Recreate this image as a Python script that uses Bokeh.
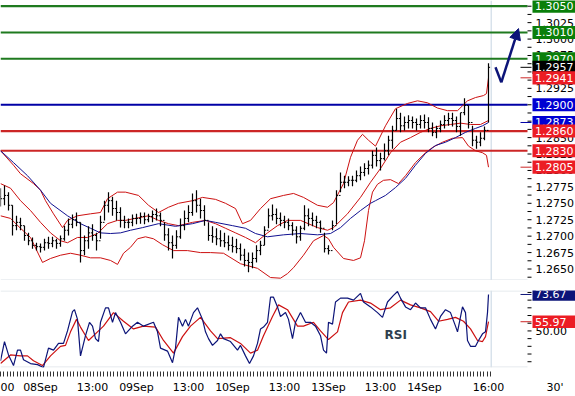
from bokeh.plotting import figure
from bokeh.models import Range1d, FixedTicker, Span, Label, Arrow, NormalHead
from bokeh.core.properties import value
from bokeh.layouts import column
from bokeh.embed import file_html
from bokeh.resources import INLINE

FONT = "DejaVu Sans"

# ---------------- data (x = hours after 08Sep 00:00, trading hours only) ----------------
bar_hours = list(range(-10, 113))
highs = [1.2773, 1.2777, 1.2767, 1.2747, 1.2731, 1.2728, 1.2716, 1.2705, 1.2698, 1.2690,
         1.2689, 1.2696, 1.2699, 1.2699, 1.2696, 1.2701, 1.2716, 1.2727, 1.2733, 1.2736,
         1.2721, 1.2701, 1.2715, 1.2718, 1.2705, 1.2731, 1.2754, 1.2767, 1.2760, 1.2754,
         1.2744, 1.2731, 1.2727, 1.2733, 1.2734, 1.2736, 1.2736, 1.2734, 1.2739, 1.2742,
         1.2736, 1.2721, 1.2712, 1.2701, 1.2709, 1.2727, 1.2739, 1.2747, 1.2765, 1.2770,
         1.2757, 1.2747, 1.2721, 1.2715, 1.2712, 1.2709, 1.2705, 1.2701, 1.2699, 1.2696,
         1.2689, 1.2681, 1.2675, 1.2675, 1.2686, 1.2693, 1.2715, 1.2742, 1.2748, 1.2742,
         1.2736, 1.2731, 1.2727, 1.2721, 1.2715, 1.2716, 1.2747, 1.2742, 1.2736, 1.2731,
         1.2724, 1.2705, 1.2686, 1.2724, 1.2770, 1.2797, 1.2792, 1.2791, 1.2792, 1.2800,
         1.2806, 1.2811, 1.2815, 1.2830, 1.2835, 1.2827, 1.2841, 1.2853, 1.2868, 1.2894,
         1.2888, 1.2882, 1.2884, 1.2882, 1.2879, 1.2884, 1.2885, 1.2881, 1.2873, 1.2868,
         1.2876, 1.2884, 1.2888, 1.2888, 1.2882, 1.2888, 1.2910, 1.2899, 1.2868, 1.2853,
         1.2858, 1.2867, 1.2963]
lows = [1.2745, 1.2747, 1.2739, 1.2701, 1.2709, 1.2709, 1.2693, 1.2686, 1.2681, 1.2678,
        1.2675, 1.2678, 1.2681, 1.2683, 1.2681, 1.2684, 1.2693, 1.2701, 1.2712, 1.2715,
        1.2660, 1.2671, 1.2681, 1.2693, 1.2678, 1.2696, 1.2724, 1.2736, 1.2731, 1.2724,
        1.2713, 1.2712, 1.2712, 1.2715, 1.2718, 1.2719, 1.2718, 1.2721, 1.2721, 1.2724,
        1.2715, 1.2693, 1.2678, 1.2666, 1.2681, 1.2696, 1.2709, 1.2721, 1.2731, 1.2736,
        1.2727, 1.2716, 1.2693, 1.2690, 1.2686, 1.2684, 1.2683, 1.2678, 1.2675, 1.2674,
        1.2663, 1.2654, 1.2645, 1.2651, 1.2660, 1.2671, 1.2686, 1.2712, 1.2724, 1.2718,
        1.2715, 1.2712, 1.2709, 1.2701, 1.2689, 1.2693, 1.2709, 1.2715, 1.2715, 1.2712,
        1.2705, 1.2675, 1.2672, 1.2709, 1.2718, 1.2767, 1.2773, 1.2776, 1.2776, 1.2782,
        1.2785, 1.2791, 1.2794, 1.2803, 1.2806, 1.2800, 1.2815, 1.2823, 1.2833, 1.2861,
        1.2858, 1.2861, 1.2864, 1.2864, 1.2861, 1.2864, 1.2864, 1.2858, 1.2852, 1.2849,
        1.2858, 1.2864, 1.2868, 1.2867, 1.2858, 1.2853, 1.2884, 1.2864, 1.2837, 1.2833,
        1.2837, 1.2846, 1.2873]
closes = [1.2757, 1.2762, 1.2747, 1.2716, 1.2721, 1.2716, 1.2701, 1.2693, 1.2686, 1.2684,
          1.2683, 1.2690, 1.2689, 1.2693, 1.2689, 1.2696, 1.2709, 1.2718, 1.2725, 1.2721,
          1.2678, 1.2693, 1.2705, 1.2701, 1.2693, 1.2721, 1.2747, 1.2754, 1.2742, 1.2736,
          1.2724, 1.2721, 1.2721, 1.2727, 1.2727, 1.2730, 1.2725, 1.2730, 1.2733, 1.2731,
          1.2724, 1.2702, 1.2690, 1.2686, 1.2699, 1.2716, 1.2727, 1.2736, 1.2754, 1.2747,
          1.2739, 1.2724, 1.2701, 1.2699, 1.2696, 1.2693, 1.2690, 1.2686, 1.2684, 1.2681,
          1.2671, 1.2663, 1.2660, 1.2666, 1.2678, 1.2686, 1.2709, 1.2731, 1.2733, 1.2727,
          1.2724, 1.2721, 1.2716, 1.2709, 1.2699, 1.2712, 1.2731, 1.2727, 1.2724, 1.2721,
          1.2712, 1.2681, 1.2678, 1.2716, 1.2762, 1.2782, 1.2782, 1.2785, 1.2785, 1.2792,
          1.2797, 1.2803, 1.2808, 1.2823, 1.2815, 1.2818, 1.2830, 1.2846, 1.2861, 1.2879,
          1.2868, 1.2873, 1.2876, 1.2873, 1.2870, 1.2876, 1.2873, 1.2864, 1.2858, 1.2864,
          1.2870, 1.2876, 1.2879, 1.2876, 1.2867, 1.2888, 1.2899, 1.2873, 1.2846, 1.2843,
          1.2849, 1.2861, 1.2957]
first_open = 1.2760

upper_h = [-10, -6.75, -5, -1.75, 0, 1.25, 3.25, 5.5, 6.75, 9.25, 12.5, 15, 16.75, 19.25, 21.25,
           24.5, 27, 29.5, 32, 34.5, 38, 40.5, 43.75, 46.25, 48.75, 50.5, 52.5, 55, 57.5, 60.75,
           63.25, 65.75, 69.25, 71.75, 73.25, 75.75, 77.5, 79.25, 80.5, 82, 83.75, 86.25, 88.75,
           91.75, 94.25, 96.75, 99.25, 101.75, 104.25, 106.75, 108.75, 110.75, 111.5, 112]
upper_p = [1.2830, 1.2808, 1.2795, 1.2780, 1.2770, 1.2754, 1.2734, 1.2713, 1.2724, 1.2731,
           1.2734, 1.2736, 1.2757, 1.2767, 1.2767, 1.2762, 1.2747, 1.2736, 1.2744, 1.2750,
           1.2754, 1.2759, 1.2756, 1.2750, 1.2742, 1.2719, 1.2724, 1.2742, 1.2757, 1.2762,
           1.2765, 1.2759, 1.2747, 1.2744, 1.2751, 1.2780, 1.2820, 1.2846, 1.2855, 1.2846,
           1.2837, 1.2868, 1.2894, 1.2902, 1.2906, 1.2903, 1.2895, 1.2891, 1.2891, 1.2906,
           1.2911, 1.2914, 1.2917, 1.2941]

mid_h = [-10, -7.5, -5, -2.5, 0, 2.5, 5, 6.75, 9.25, 11.75, 14.25, 16.75, 19.25, 21.25, 24.5,
         27, 29.5, 32, 34.5, 38, 41.25, 43.75, 46.25, 48.75, 51.25, 53.75, 56.75, 59.25, 61.75,
         65, 69.25, 71.75, 73.25, 76.75, 80, 82.5, 85, 87.5, 90, 92.5, 95, 97.5, 100, 102.5,
         105, 107.5, 110, 112]
mid_p = [1.2780, 1.2773, 1.2754, 1.2739, 1.2721, 1.2705, 1.2693, 1.2690, 1.2698, 1.2698,
         1.2704, 1.2719, 1.2724, 1.2724, 1.2728, 1.2731, 1.2724, 1.2719, 1.2716, 1.2721,
         1.2724, 1.2719, 1.2712, 1.2705, 1.2698, 1.2690, 1.2705, 1.2716, 1.2724, 1.2724,
         1.2713, 1.2709, 1.2713, 1.2734, 1.2759, 1.2782, 1.2803, 1.2827, 1.2843, 1.2850,
         1.2858, 1.2864, 1.2868, 1.2870, 1.2872, 1.2870, 1.2870, 1.2876]

lower_h = [-10, -7.5, -5, -2.5, 0.5, 2.5, 5, 7.5, 10, 12.5, 15, 17.5, 19.25, 20.75, 22.5,
           24.25, 26.25, 28.25, 30.5, 33.25, 36.75, 40, 42.5, 45.75, 50, 54.25, 57.5, 60, 61.75,
           63.25, 65.75, 68.25, 70.75, 72, 73.25, 75.75, 78.25, 80, 81, 82, 83, 84.25, 85.75,
           87.5, 89.5, 91.25, 93.75, 96.25, 98, 100.5, 103, 105.5, 107, 108.75, 110.5, 111.5, 112]
lower_p = [1.2731, 1.2727, 1.2712, 1.2698, 1.2660, 1.2666, 1.2671, 1.2674, 1.2671, 1.2667,
           1.2667, 1.2663, 1.2657, 1.2674, 1.2683, 1.2696, 1.2699, 1.2696, 1.2687, 1.2678,
           1.2678, 1.2675, 1.2675, 1.2674, 1.2658, 1.2651, 1.2637, 1.2636, 1.2643, 1.2652,
           1.2671, 1.2693, 1.2701, 1.2696, 1.2683, 1.2666, 1.2663, 1.2667, 1.2693, 1.2739,
           1.2767, 1.2779, 1.2785, 1.2786, 1.2780, 1.2792, 1.2812, 1.2827, 1.2835, 1.2843,
           1.2849, 1.2850, 1.2837, 1.2830, 1.2827, 1.2823, 1.2805]

ma_h = [-10, -6.75, -3.25, 0, 2.5, 6.75, 10, 12.5, 15, 17.5, 20, 22.5, 25.5, 29.5, 33.75, 38,
        41.25, 43.75, 48, 51.25, 53.75, 56.75, 60.75, 65, 69.25, 72.5, 75, 77.5, 80, 82.5,
        83.75, 86.25, 88.75, 91.25, 93.75, 96.25, 98.75, 101.25, 103.75, 106.25, 108.75, 110.5, 112]
ma_p = [1.2830, 1.2812, 1.2792, 1.2770, 1.2750, 1.2731, 1.2719, 1.2712, 1.2705, 1.2704,
        1.2705, 1.2709, 1.2713, 1.2719, 1.2715, 1.2719, 1.2724, 1.2721, 1.2716, 1.2712,
        1.2704, 1.2699, 1.2702, 1.2704, 1.2702, 1.2704, 1.2713, 1.2727, 1.2739, 1.2750,
        1.2754, 1.2762, 1.2774, 1.2788, 1.2808, 1.2826, 1.2838, 1.2843, 1.2850, 1.2858,
        1.2864, 1.2868, 1.2873]

rsi_h = [-10, -9, -8, -6.75, -5.75, -5, -4.25, -2.5, -0.75, 0.75,
         2, 3.25, 4.5, 5.75, 6.75, 8, 8.5, 9.25, 10, 11.25,
         12.25, 13, 13.75, 14.5, 15, 16.25, 17, 18, 18.75, 20,
         21.25, 23, 24.25, 25.75, 28.25, 29.25, 30, 31.75, 33, 33.75,
         34.5, 35.5, 36.25, 37, 38.25, 39.25, 40.5, 41.25, 42, 43,
         44.25, 45, 45.75, 47.5, 49.25, 50, 51.25, 52.25, 53.25, 54.25,
         55, 55.75, 56.75, 57.5, 58.25, 59.25, 60, 61.25, 62, 63,
         63.75, 65, 66.25, 67.5, 68.75, 70, 70.75, 71.5, 72, 73,
         73.75, 75, 76.75, 78.25, 80, 80.75, 82.5, 84.25, 85.5, 86.75,
         88.25, 89.25, 90, 91.25, 92.5, 93.75, 95, 96.25, 97.5, 98.75,
         100, 101.25, 102.5, 103.75, 104.25, 105.5, 106.25, 106.75, 107.5, 108.75,
         109.5, 110.5, 111.25, 111.75, 112]
rsi_v = [30.6, 43.1, 34.4, 27.5, 37.5, 37.5, 31.3, 28.8, 28.1, 26.3,
         38.8, 37.5, 41.9, 41.9, 50.0, 62.5, 63.8, 57.5, 33.8, 46.9,
         55.6, 53.1, 45.0, 43.1, 55.6, 65.0, 65.0, 55.6, 61.9, 55.6,
         48.1, 53.1, 55.6, 53.1, 55.6, 49.4, 38.8, 36.9, 29.4, 38.8,
         58.8, 53.1, 57.5, 53.1, 61.9, 65.0, 57.5, 49.4, 45.0, 40.6,
         43.8, 48.1, 45.0, 43.1, 37.5, 40.6, 33.8, 28.8, 33.8, 41.9,
         51.3, 52.5, 55.6, 71.9, 71.9, 65.6, 59.4, 61.9, 57.5, 45.0,
         55.6, 61.9, 55.6, 55.6, 53.1, 46.9, 37.5, 35.6, 55.6, 54.4,
         68.8, 71.3, 71.3, 70.0, 74.4, 68.8, 65.6, 61.9, 58.8, 68.8,
         73.1, 75.6, 71.3, 65.6, 63.8, 68.1, 65.0, 65.0, 57.5, 51.3,
         59.4, 63.8, 61.9, 53.1, 49.4, 65.6, 61.9, 43.8, 40.0, 40.0,
         43.8, 48.1, 49.4, 61.9, 73.67]

sig_h = [-10, -7.5, -5, -3.25, -1.75, 0.5, 2.5, 5, 6.25, 7.5, 9, 10, 12, 14.25, 15.75,
         18.25, 20.75, 23.25, 25.75, 28.75, 30.75, 33.25, 35.5, 37.5, 40, 42.5, 44.25, 47.5,
         50, 52.5, 54.25, 55.75, 58, 59.5, 61.75, 64.25, 65.75, 68.25, 70, 72, 74.25, 75.5,
         77, 80, 82.5, 85, 87.5, 90, 92.5, 95, 97.5, 99.5, 101.75, 103.75, 105.75, 107.5,
         109.25, 110.5, 111.25, 112]
sig_v = [28.8, 34.4, 33.8, 33.8, 30.6, 27.5, 33.8, 40.0, 40.6, 49.4, 57.5, 52.5, 43.8, 49.4,
         53.1, 61.9, 56.3, 51.3, 53.1, 52.5, 43.8, 35.6, 46.3, 53.1, 58.8, 50.0, 45.0, 45.6,
         41.9, 35.6, 37.5, 46.9, 59.4, 66.9, 63.8, 53.1, 53.1, 55.6, 50.0, 44.4, 49.4, 61.9,
         68.8, 70.0, 68.1, 63.8, 65.0, 70.0, 66.9, 65.0, 62.5, 56.3, 57.5, 58.8, 56.3, 51.3,
         43.8, 43.1, 46.3, 55.97]

resistance_levels = [1.3050, 1.3010, 1.2970]
pivot_levels = [1.2900]
support_levels = [1.2860, 1.2830]

forecast_h = [113.75, 115.2, 119.5]
forecast_p = [1.2957, 1.2934, 1.3016]

price_ticks = [1.2650, 1.2675, 1.2700, 1.2725, 1.2750, 1.2775, 1.2800, 1.2825, 1.2850,
               1.2875, 1.2900, 1.2925, 1.2950, 1.2975, 1.3000, 1.3025, 1.3050]
rsi_ticks = [50, 75]
time_ticks = [-8.875, 0, 13, 24, 37, 48, 61, 72, 85, 96, 112, 128.625]
time_labels = ["00", "08Sep", "13:00", "09Sep", "13:00", "10Sep", "13:00", "13Sep", "13:00",
               "14Sep", "16:00", "30'"]

# ---------------- layout constants (hour units: px = 40 + 4*h) ----------------
GREEN_LINE, GREEN_BOX = "#1f7a1f", "#0a7f0a"
BLUE_LINE, BLUE_BOX = "#0000a6", "#0000d2"
RED_LINE, RED_BOX = "#cc2626", "#ec1c24"
NAVY = "#0c1478"
BAND_RED = "#cc1010"
MA_BLUE = "#101090"
FRAME_GREY = "#dde3e8"
NOW_LINE = "#c6d5e2"
X0, X1 = -10.0, 133.75          # whole canvas width
EDGE = 121.75                   # right end of the plotting area (px 527)
TICK_END = 122.75
TICK_LABEL_X = 123.75
BOX_L, BOX_R, BOX_TEXT_X = 123.0, 134.0, 123.625
STUB_X = 120.0
LAST_H = 112.67

XR = Range1d(X0, X1)


def right_axis(fig, majors, minors, labels):
    fig.segment(x0=[EDGE] * len(minors), y0=minors, x1=[TICK_END] * len(minors), y1=minors,
                line_color="black", line_width=1)
    fig.text(x=[TICK_LABEL_X] * len(majors), y=majors, text=labels, text_font=value(FONT),
             text_font_size="11px", text_color="black", text_baseline="middle", text_align="left")


def tag(fig, y, text, color, half):
    fig.quad(left=[BOX_L], right=[BOX_R], bottom=[y - half], top=[y + half],
             fill_color=color, line_color=None)
    fig.text(x=[BOX_TEXT_X], y=[y], text=[text], text_font=value(FONT), text_font_size="11px",
             text_color="white", text_baseline="middle", text_align="left")


# ---------------- main price panel ----------------
p = figure(width=575, height=280, x_range=XR, y_range=Range1d(1.26325, 1.30587),
           x_axis_location=None, y_axis_location=None,
           output_backend="svg", toolbar_location=None,
           min_border_left=0, min_border_right=0, min_border_top=0, min_border_bottom=0)
p.grid.visible = False
p.outline_line_color = None

p.add_layout(Span(location=LAST_H, dimension="height", line_color=NOW_LINE, line_width=1, level="underlay"))
p.segment(x0=[X0], y0=[1.26333], x1=[EDGE], y1=[1.26333], line_color=FRAME_GREY, line_width=1)

for levels, col in ((resistance_levels, GREEN_LINE), (pivot_levels, BLUE_LINE), (support_levels, RED_LINE)):
    p.segment(x0=[X0] * len(levels), y0=levels, x1=[EDGE] * len(levels), y1=levels,
              line_color=col, line_width=2.2)

p.line(upper_h, upper_p, line_color=BAND_RED, line_width=1)
p.line(mid_h, mid_p, line_color=BAND_RED, line_width=1)
p.line(lower_h, lower_p, line_color=BAND_RED, line_width=1)
p.line(ma_h, ma_p, line_color=MA_BLUE, line_width=1)

opens = [first_open] + closes[:-1]
p.segment(x0=bar_hours, y0=lows, x1=bar_hours, y1=highs, line_color="black", line_width=1.2)
p.segment(x0=[h - 0.4 for h in bar_hours], y0=opens, x1=bar_hours, y1=opens, line_color="black", line_width=1)
p.segment(x0=bar_hours, y0=closes, x1=[h + 0.4 for h in bar_hours], y1=closes, line_color="black", line_width=1)

p.line(forecast_h[:2], forecast_p[:2], line_color=NAVY, line_width=2.5)
p.add_layout(Arrow(end=NormalHead(size=11, fill_color=NAVY, line_color=NAVY),
                   x_start=forecast_h[1], y_start=forecast_p[1],
                   x_end=forecast_h[2], y_end=forecast_p[2],
                   line_color=NAVY, line_width=2.5))

stub_vals = [closes[-1], upper_p[-1], ma_p[-1], lower_p[-1]]
p.segment(x0=[STUB_X] * 4, y0=stub_vals, x1=[TICK_END] * 4, y1=stub_vals,
          line_color=["black", RED_LINE, BLUE_LINE, RED_LINE], line_width=1)

price_minor = [round(1.26375 + 0.00125 * k, 5) for k in range(34)]
right_axis(p, price_ticks, price_minor, ["%.4f" % t for t in price_ticks])

PH = 0.001
for lv in resistance_levels:
    tag(p, lv, "%.4f" % lv, GREEN_BOX, PH)
tag(p, closes[-1], "%.4f" % closes[-1], "black", PH)
tag(p, upper_p[-1], "%.4f" % upper_p[-1], RED_BOX, PH)
for lv in pivot_levels:
    tag(p, lv, "%.4f" % lv, BLUE_BOX, PH)
tag(p, ma_p[-1], "%.4f" % ma_p[-1], BLUE_BOX, PH)
for lv in support_levels:
    tag(p, lv, "%.4f" % lv, RED_BOX, PH)
tag(p, lower_p[-1], "%.4f" % lower_p[-1], RED_BOX, PH)

# ---------------- RSI panel ----------------
r = figure(width=575, height=116, x_range=XR, y_range=Range1d(26.25, 76.25),
           y_axis_location=None, output_backend="svg", toolbar_location=None,
           min_border_left=0, min_border_right=0, min_border_top=10, min_border_bottom=26)
r.grid.visible = False
r.outline_line_color = None

xa = r.xaxis[0]
xa.ticker = FixedTicker(ticks=time_ticks, minor_ticks=[-10 + k * 5 / 6 for k in range(148)])
xa.major_label_overrides = {t: s for t, s in zip(time_ticks, time_labels)}
xa.axis_line_color = None
xa.major_tick_line_color = None
xa.minor_tick_in = -4
xa.minor_tick_out = 9
xa.major_tick_in = -4
xa.major_tick_out = 9
xa.minor_tick_line_color = "#333333"
xa.major_label_text_font = FONT
xa.major_label_text_font_size = "11px"
xa.major_label_text_color = "black"
xa.major_label_standoff = 4

r.add_layout(Span(location=LAST_H, dimension="height", line_color=NOW_LINE, line_width=1, level="underlay"))
r.segment(x0=[X0, X0], y0=[75.94, 26.56], x1=[EDGE, EDGE], y1=[75.94, 26.56],
          line_color=FRAME_GREY, line_width=1)

r.line(sig_h, sig_v, line_color=BAND_RED, line_width=1.2)
r.line(rsi_h, rsi_v, line_color=NAVY, line_width=1.2)

r.segment(x0=[STUB_X] * 2, y0=[rsi_v[-1], sig_v[-1]], x1=[TICK_END] * 2, y1=[rsi_v[-1], sig_v[-1]],
          line_color=[NAVY, RED_LINE], line_width=1)

right_axis(r, rsi_ticks, [30 + 5 * k for k in range(10)], ["%.2f" % t for t in rsi_ticks])

r.add_layout(Label(x=86.0, y=47.5, text="RSI", text_font=FONT, text_font_size="12px",
                   text_font_style="bold", text_color="#2f3f4f", text_baseline="middle"))
RH = 4.0
tag(r, rsi_v[-1], "%.2f" % rsi_v[-1], NAVY, RH)
tag(r, sig_v[-1], "%.2f" % sig_v[-1], RED_BOX, RH)

layout = column(p, r, spacing=0)
open("out.html", "w").write(file_html(layout, INLINE))
